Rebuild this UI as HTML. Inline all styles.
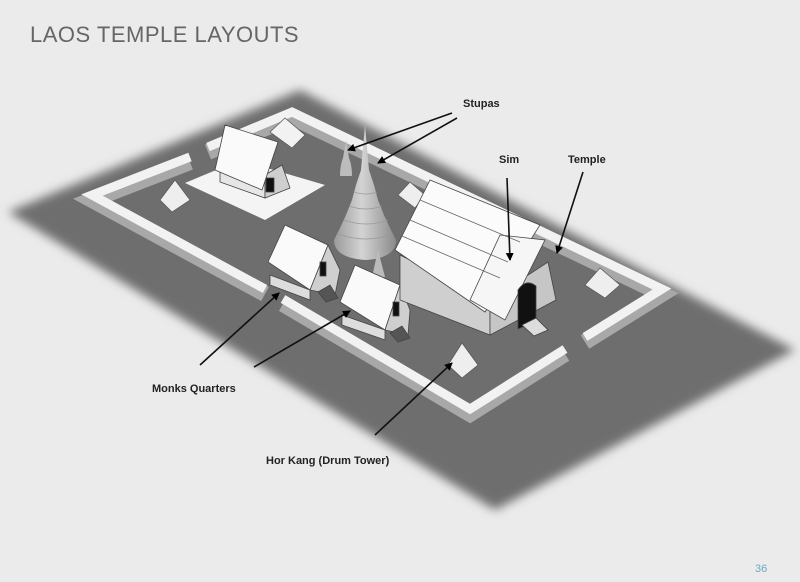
<!DOCTYPE html>
<html><head><meta charset="utf-8"><style>
html,body{margin:0;padding:0;background:#ebebeb;width:800px;height:582px;overflow:hidden;font-family:"Liberation Sans",sans-serif}
</style></head><body>
<svg width="800" height="582" viewBox="0 0 800 582" xmlns="http://www.w3.org/2000/svg">
<defs>
<filter id="b" x="-10%" y="-10%" width="120%" height="120%"><feGaussianBlur stdDeviation="5"/></filter>
<marker id="a" markerWidth="8" markerHeight="8" refX="7" refY="4" orient="auto" markerUnits="userSpaceOnUse"><path d="M0,0 L8,4 L0,8 z" fill="#000"/></marker>
<linearGradient id="st" x1="0" y1="0" x2="1" y2="0"><stop offset="0" stop-color="#9a9a9a"/><stop offset="0.45" stop-color="#d4d4d4"/><stop offset="1" stop-color="#8a8a8a"/></linearGradient>
</defs>
<rect width="800" height="582" fill="#ebebeb"/>
<text x="30" y="42" font-size="22" fill="#666" letter-spacing="0.5">LAOS TEMPLE LAYOUTS</text>
<text x="755" y="572" font-size="11" fill="#6aa8c0">36</text>
<polygon points="300,90 8,212 495,510 795,350" fill="#6e6e6e" filter="url(#b)"/>
<g fill="none" stroke-linejoin="miter">
<polyline points="190,162 92,200 265,294" stroke="#a8a8a8" stroke-width="16"/>
<polyline points="190,157 92,195 265,289" stroke="#f2f2f2" stroke-width="9"/>
<polyline points="283,304 470,414 565,354" stroke="#a8a8a8" stroke-width="16"/>
<polyline points="283,299 470,409 565,349" stroke="#f2f2f2" stroke-width="9"/>
<polyline points="585,342 662,294 292,117 208,152" stroke="#a8a8a8" stroke-width="16"/>
<polyline points="585,337 662,289 292,112 208,147" stroke="#f2f2f2" stroke-width="9"/>
</g>
<polygon points="185,183 240,160 325,185 265,220" fill="#f4f4f4"/>
<g stroke="#555" stroke-width="0.7">
<polygon points="270,132 285,118 305,135 292,148" fill="#f2f2f2"/>
<polygon points="160,200 175,180 190,200 172,212" fill="#eee"/>
<polygon points="398,195 410,182 425,195 415,208" fill="#eee"/>
<polygon points="585,285 600,268 620,285 605,298" fill="#eee"/>
<polygon points="448,365 462,343 478,365 462,378" fill="#eee"/>
</g>
<g stroke="#444" stroke-width="0.8">
<polygon points="220,160 265,175 265,198 220,182" fill="#e6e6e6"/>
<polygon points="265,175 282,165 290,188 265,198" fill="#cfcfcf"/>
<polygon points="215,170 225,125 278,142 262,190" fill="#fafafa"/>
<rect x="266" y="178" width="8" height="14" fill="#111"/>
</g>
<path d="M340,176 Q340,165 343,158 L346,140 L349,158 Q352,165 352,176 Z" fill="#bcbcbc"/>
<path d="M365,125 L369,170 L374,185 L378,200 L384,215 L390,228 L396,240 Q396,258 366,260 Q334,258 334,240 L340,228 L346,215 L352,200 L356,185 L361,170 Z" fill="url(#st)"/>
<g stroke="#999" stroke-width="0.8" fill="none">
<path d="M338,234 Q366,244 392,234"/><path d="M344,220 Q366,228 388,220"/><path d="M349,206 Q366,212 382,206"/><path d="M354,192 Q366,196 377,192"/>
</g>
<polygon points="372,277 378,250 385,277" fill="#bbb"/>
<g stroke="#444" stroke-width="0.8">
<polygon points="270,275 310,290 310,300 270,285" fill="#ddd"/>
<polygon points="268,262 285,225 328,245 310,290" fill="#fafafa"/>
<polygon points="310,290 328,245 340,270 335,295" fill="#cfcfcf"/>
<rect x="320" y="262" width="6" height="14" fill="#111"/>
<polygon points="318,292 330,285 338,298 326,302" fill="#555"/>
<polygon points="342,315 385,330 385,340 342,325" fill="#ddd"/>
<polygon points="340,302 355,265 400,285 385,330" fill="#fafafa"/>
<polygon points="385,330 400,285 410,310 408,335" fill="#cfcfcf"/>
<rect x="393" y="302" width="6" height="14" fill="#111"/>
<polygon points="390,333 402,326 410,338 398,342" fill="#555"/>
</g>
<g stroke="#444" stroke-width="0.8">
<polygon points="400,255 490,300 490,335 400,300" fill="#cfcfcf"/>
<polygon points="490,300 548,262 556,300 490,335" fill="#c6c6c6"/>
<polygon points="395,250 430,180 540,225 485,312" fill="#fbfbfb"/>
<polygon points="470,300 500,235 545,240 505,320" fill="#f6f6f6"/>
<line x1="402" y1="236" x2="500" y2="278" stroke="#666"/>
<line x1="410" y1="220" x2="508" y2="262" stroke="#666"/>
<line x1="420" y1="200" x2="520" y2="242" stroke="#666"/>
<path d="M518,290 q8,-12 18,-4 l0,35 l-18,8 z" fill="#111"/>
<polygon points="522,325 536,318 548,330 534,336" fill="#ddd"/>
</g>
<g stroke="#111" stroke-width="1.6" marker-end="url(#a)">
<line x1="452" y1="113" x2="348" y2="150"/>
<line x1="457" y1="118" x2="378" y2="163"/>
<line x1="507" y1="178" x2="510" y2="260"/>
<line x1="583" y1="172" x2="557" y2="253"/>
<line x1="200" y1="365" x2="279" y2="293"/>
<line x1="254" y1="367" x2="350" y2="311"/>
<line x1="375" y1="435" x2="452" y2="363"/>
</g>
<g font-size="11" font-weight="bold" fill="#222">
<text x="463" y="107">Stupas</text>
<text x="499" y="163">Sim</text>
<text x="568" y="163">Temple</text>
<text x="152" y="392">Monks Quarters</text>
<text x="266" y="464">Hor Kang (Drum Tower)</text>
</g>
</svg>
</body></html>
